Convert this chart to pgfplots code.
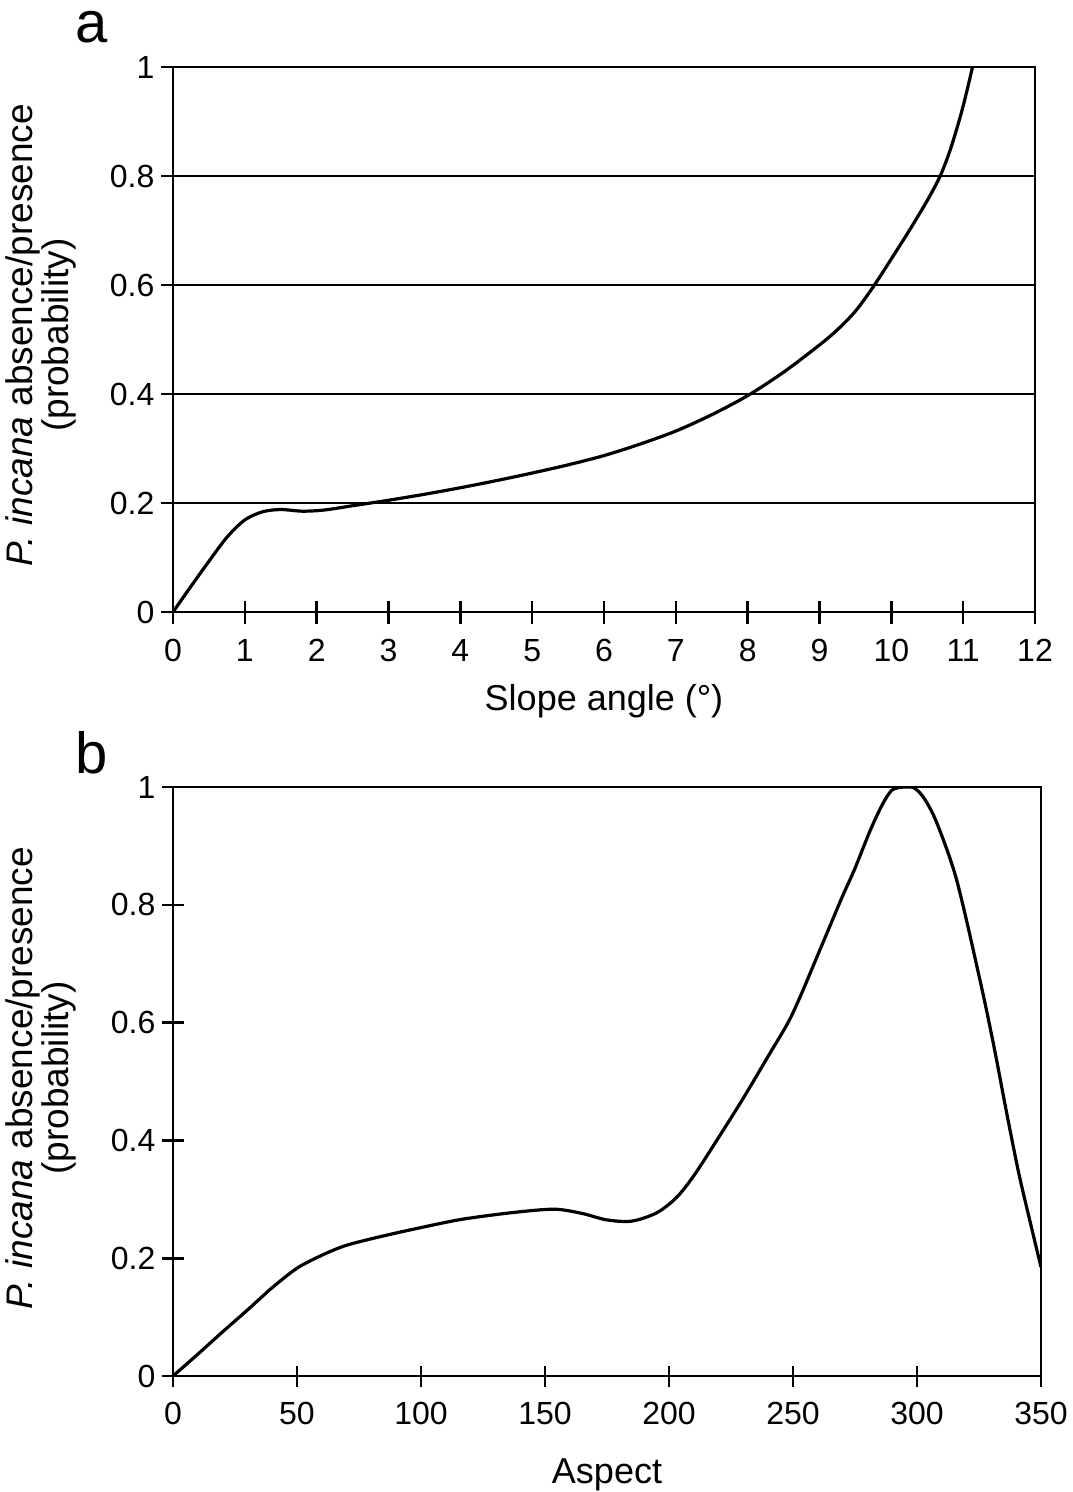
\documentclass[border=0pt]{standalone}
\usepackage{fontspec}
\setmainfont{Liberation Sans}
\usepackage{pgfplots}
\pgfplotsset{compat=1.18}
\begin{document}
\begin{tikzpicture}
\useasboundingbox (0,0) rectangle (536pt,-746pt);
\pgfplotsset{
  common/.style={
    scale only axis,
    axis line style={line width=1.3pt},
    every tick/.style={line width=1.3pt, black},
    tick align=center,
    xtick pos=bottom, ytick pos=left,
    ymin=0, ymax=1,
    ytick={0,0.2,0.4,0.6,0.8,1},
    yticklabels={0,0.2,0.4,0.6,0.8,1},
    tick label style={font=\fontsize{16}{18}\selectfont},
    xticklabel style={yshift=-4.5pt},
    /pgf/number format/assume math mode=true,
    xlabel style={font=\fontsize{18}{21}\selectfont, anchor=base},
    ylabel style={font=\fontsize{18.5}{12.5}\selectfont, align=center, anchor=center},
  }
}
\begin{axis}[common,
  at={(86.5pt,-33.5pt)}, anchor=north west,
  width=431pt, height=272.5pt,
  xmin=0, xmax=12, xtick={0,1,...,12},
  major tick length=11.5pt,
  ymajorgrids, grid style={line width=1.3pt, black},
  xlabel={Slope angle (°)},
  xlabel style={at={(axis description cs:0.5,0)}, yshift=-49pt},
  ylabel={\textit{P. incana} absence/presence\\(probability)},
  ylabel style={at={(axis description cs:-0.153,0.508)}},
]
\addplot[line width=1.6pt, smooth, tension=0.5] coordinates {
(0,0) (0.25,0.047) (0.5,0.093) (0.75,0.137) (1.0,0.169) (1.25,0.184) (1.5,0.188)
(1.8,0.185) (2.1,0.187) (2.5,0.195) (3,0.205) (3.5,0.216) (4,0.228) (4.5,0.241)
(5,0.255) (5.5,0.27) (6,0.287) (6.5,0.308) (7,0.332) (7.5,0.362) (8,0.397)
(8.5,0.44) (9,0.49) (9.25,0.518) (9.5,0.552) (9.75,0.597) (10,0.648) (10.25,0.70)
(10.5,0.755) (10.68,0.80) (10.82,0.848) (10.96,0.909) (11.05,0.955) (11.13,1.0)
};
\end{axis}
\node[anchor=base west, font=\fontsize{29}{30}\selectfont, inner sep=0pt] at (37.5pt,-21.5pt) {a};
\begin{axis}[common,
  at={(86.5pt,-393.5pt)}, anchor=north west,
  width=434pt, height=294.5pt,
  xmin=0, xmax=350, xtick={0,50,...,350},
  major tick length=10.5pt,
  xlabel={Aspect},
  xlabel style={at={(axis description cs:0.5,0)}, yshift=-53.5pt},
  ylabel={\textit{P. incana} absence/presence\\(probability)},
  ylabel style={at={(axis description cs:-0.152,0.506)}},
]
\addplot[line width=1.6pt, smooth, tension=0.5] coordinates {
(0,0) (10,0.037) (20,0.075) (30,0.112) (40,0.15) (50,0.183) (60,0.205) (70,0.222)
(85,0.238) (100,0.252) (115,0.265) (130,0.274) (145,0.281) (155,0.283) (165,0.276)
(175,0.265) (185,0.263) (195,0.277) (203,0.303) (210,0.34) (220,0.405) (230,0.472)
(240,0.543) (248,0.6) (253,0.645) (260,0.715) (265,0.765) (270,0.815) (275,0.862)
(281,0.925) (286,0.97) (290,0.995) (295,1.0) (299,0.998) (303,0.98) (308,0.939)
(316,0.842) (325.4,0.672) (331,0.56) (336,0.45) (341,0.345) (346,0.255) (350,0.185)
};
\end{axis}
\node[anchor=base west, font=\fontsize{29}{30}\selectfont, inner sep=0pt] at (37.5pt,-386.5pt) {b};
\end{tikzpicture}
\end{document}
